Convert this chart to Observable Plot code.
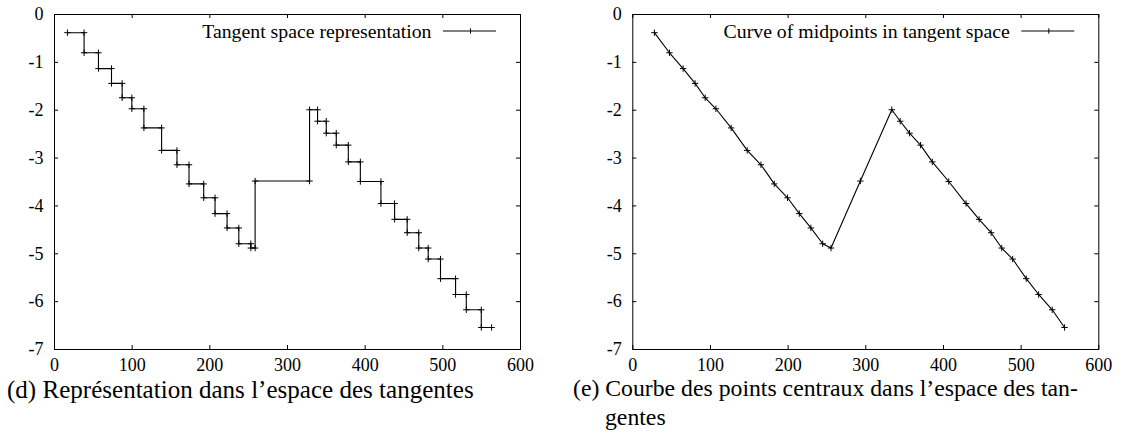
<!DOCTYPE html>
<html><head><meta charset="utf-8">
<script src="https://cdn.jsdelivr.net/npm/d3@7"></script>
<script src="https://cdn.jsdelivr.net/npm/@observablehq/plot@0.6"></script>
<style>
body{margin:0;background:#fff;}
#wrap{position:relative;width:1131px;height:447px;overflow:hidden;background:#fff;}
#wrap svg{position:absolute;top:0;overflow:visible;}
#wrap svg text{font-family:"Liberation Serif","DejaVu Serif",serif !important;}
.cap{position:absolute;font-family:"Liberation Serif","DejaVu Serif",serif;font-size:21px;color:#000;white-space:nowrap;line-height:1;}
</style></head><body><div id="wrap"></div>
<script>
// ---- data ----
const xTicks = [0, 100, 200, 300, 400, 500, 600];
const yTicks = [0, -1, -2, -3, -4, -5, -6, -7];

// left panel: horizontal segments of the staircase (start x, end x, y)
const stepStart = [16.6, 38.1, 56.6, 73.4, 87.1, 99.6, 115.1, 137.9, 157.7, 173.2, 192.1, 206.7, 222.2, 237.3, 252.8, 258.3, 328.4, 338.7, 349.9, 362.8, 378.3, 393.8, 420.3, 437.9, 454.1, 469.0, 481.2, 497.0, 516.4, 530.2, 549.5];
const stepEnd   = [38.1, 56.6, 73.4, 87.1, 99.6, 115.1, 137.9, 157.7, 173.2, 192.1, 206.7, 222.2, 237.3, 252.8, 258.3, 328.4, 338.7, 349.9, 362.8, 378.3, 393.8, 420.3, 437.9, 454.1, 469.0, 481.2, 497.0, 516.4, 530.2, 549.5, 562.8];
const stepY     = [-0.38, -0.80, -1.13, -1.44, -1.74, -1.97, -2.37, -2.84, -3.14, -3.54, -3.83, -4.16, -4.46, -4.79, -4.88, -3.48, -1.99, -2.23, -2.48, -2.73, -3.08, -3.49, -3.95, -4.28, -4.56, -4.88, -5.11, -5.52, -5.85, -6.17, -6.54];

// right panel: curve of midpoints
const midX = [27.8, 47.2, 64.8, 80.2, 93.2, 107.0, 126.6, 147.3, 165.0, 182.2, 199.2, 214.4, 229.3, 244.5, 255.2, 293.0, 333.5, 344.3, 356.3, 370.5, 385.6, 406.8, 429.1, 445.9, 461.4, 475.0, 489.1, 506.6, 522.5, 540.0, 555.9];
const midY = [-0.38, -0.80, -1.13, -1.44, -1.74, -1.97, -2.37, -2.84, -3.14, -3.54, -3.83, -4.16, -4.46, -4.79, -4.88, -3.48, -1.99, -2.23, -2.48, -2.73, -3.08, -3.49, -3.95, -4.28, -4.56, -4.88, -5.11, -5.52, -5.85, -6.17, -6.54];

const legendLeft = "Tangent space representation";
const legendRight = "Curve of midpoints in tangent space";
const captionLeft = "(d) Représentation dans l\u2019espace des tangentes";
const captionRight1 = "(e) Courbe des points centraux dans l\u2019espace des tan-";
const captionRight2 = "gentes";

// ---- build tables ----
const stairPts = [];
stepY.forEach((y, i) => { stairPts.push({x: stepStart[i], y}); stairPts.push({x: stepEnd[i], y}); });
const midPts = midX.map((x, i) => ({x, y: midY[i]}));

const FONT = "Liberation Serif, DejaVu Serif, serif";
const H = 380, MT = 14, MB = 31;

function chart(pts, legend, width, ml, mr, left) {
  const fw = width - ml - mr, fh = H - MT - MB;
  const svg = Plot.plot({
    width, height: H, marginLeft: ml, marginRight: mr, marginTop: MT, marginBottom: MB,
    style: {fontFamily: FONT, fontSize: "18px", color: "#000", background: "transparent"},
    x: {domain: [0, 600]},
    y: {domain: [-7, 0]},
    marks: [
      Plot.tickX(xTicks, {x: d => d, insetTop: fh - 4, stroke: "#000", strokeWidth: 1}),
      Plot.tickX(xTicks, {x: d => d, insetBottom: fh - 4, stroke: "#000", strokeWidth: 1}),
      Plot.tickY(yTicks, {y: d => d, insetRight: fw - 4, stroke: "#000", strokeWidth: 1}),
      Plot.tickY(yTicks, {y: d => d, insetLeft: fw - 4, stroke: "#000", strokeWidth: 1}),
      Plot.axisX(xTicks, {anchor: "bottom", tickSize: 0, tickPadding: 9, fontSize: 18, tickFormat: d => String(d), label: null}),
      Plot.axisY(yTicks, {anchor: "left", tickSize: 0, tickPadding: 11, fontSize: 18, tickFormat: d => String(d), label: null}),
      Plot.line(pts, {x: "x", y: "y", stroke: "#000", strokeWidth: 1.1}),
      Plot.dot(pts, {x: "x", y: "y", symbol: "plus", r: 2.2, stroke: "#000", strokeWidth: 1}),
      Plot.text([legend], {frameAnchor: "top-right", text: d => d, dx: -89, dy: 17, textAnchor: "end", lineAnchor: "middle", fontSize: 19.8, fill: "#000"}),
      Plot.frame({stroke: "#000", strokeWidth: 1})
    ]
  });
  // legend sample line with marker
  const g = d3.select(svg).append("g").attr("stroke", "#000").attr("stroke-width", 1);
  const xr = width - mr, yl = MT + 17;
  g.append("line").attr("x1", xr - 77).attr("x2", xr - 24).attr("y1", yl).attr("y2", yl);
  g.append("line").attr("x1", xr - 49.5).attr("x2", xr - 49.5).attr("y1", yl - 2.7).attr("y2", yl + 2.7);
  svg.style.left = left + "px";
  return svg;
}

const wrap = document.getElementById("wrap");
wrap.appendChild(chart(stairPts, legendLeft, 565, 54, 45, 0));
wrap.appendChild(chart(midPts, legendRight, 566, 67.3, 32.7, 565));

function cap(text, left, top, targetWidth) {
  const d = document.createElement("div");
  d.className = "cap"; d.textContent = text;
  d.style.left = left + "px"; d.style.top = top + "px";
  wrap.appendChild(d);
  if (targetWidth) {
    const w = d.getBoundingClientRect().width;
    d.style.fontSize = (21 * targetWidth / w).toFixed(2) + "px";
  }
  return d;
}
const c1 = cap(captionLeft, 7, 377, 467);
const c2 = cap(captionRight1, 573, 377, 505);
const c3 = cap(captionRight2, 605, 406);
c3.style.fontSize = c2.style.fontSize;
</script></body></html>
